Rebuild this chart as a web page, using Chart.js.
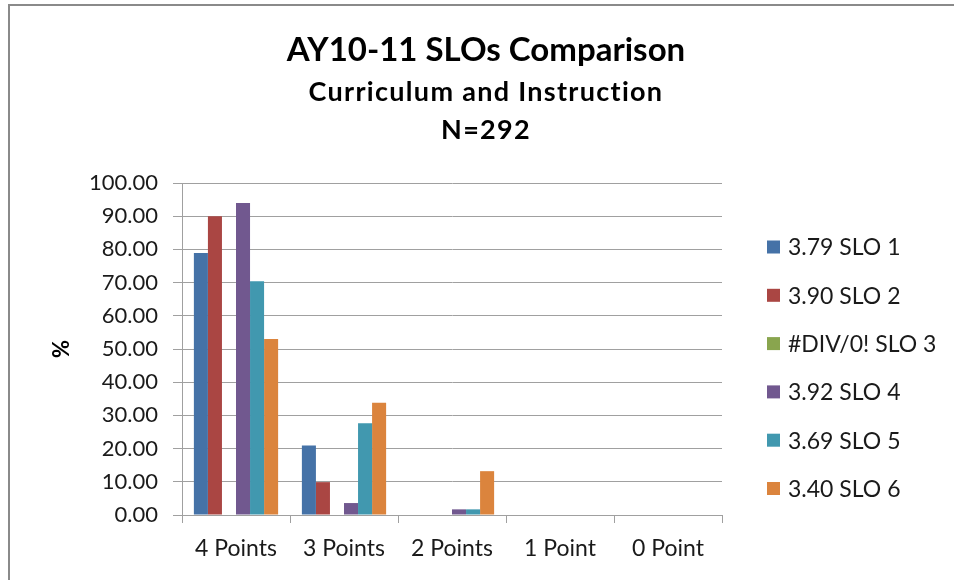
<!DOCTYPE html>
<html>
<head>
<meta charset="utf-8">
<script src="https://cdn.jsdelivr.net/npm/chart.js@4/dist/chart.umd.min.js"></script>
<style>
  html, body { margin: 0; padding: 0; background: #fff; }
  #wrap { position: relative; width: 954px; height: 580px; overflow: hidden; }
  #frame { position: absolute; left: 8px; top: 4px; right: -10px; bottom: -10px; border-top: 2px solid #8a8a8a; border-left: 2px solid #8a8a8a; pointer-events: none; }
  canvas { position: absolute; left: 0; top: 0; }
</style>
</head>
<body>
<div id="wrap">
  <canvas id="c" width="954" height="580"></canvas>
  <div id="frame"></div>
</div>
<script>
const titleText = 'AY10-11 SLOs Comparison';
const subtitleLines = ['Curriculum and Instruction', 'N=292'];
const yAxisTitle = '%';
const categories = ['4 Points', '3 Points', '2 Points', '1 Point', '0 Point'];
const seriesLabels = ['3.79 SLO 1', '3.90 SLO 2', '#DIV/0! SLO 3', '3.92 SLO 4', '3.69 SLO 5', '3.40 SLO 6'];
const slo1 = [78.9, 20.9, 0, 0, 0];
const slo2 = [90.0, 9.9, 0, 0, 0];
const slo3 = [0, 0, 0, 0, 0];
const slo4 = [94.0, 3.6, 1.7, 0, 0];
const slo5 = [70.4, 27.6, 1.7, 0, 0];
const slo6 = [53.0, 33.8, 13.2, 0, 0];
const seriesValues = [slo1, slo2, slo3, slo4, slo5, slo6];
const seriesColors = ['#4572A7', '#AA4643', '#89A54E', '#71588F', '#4198AF', '#DB843D'];
const yTicks = { min: 0, max: 100, step: 10 };

const FONT = 'Lato';
const gridColor = '#a0a0a0';

const titles = {
  id: 'titles',
  afterDraw(chart) {
    const ctx = chart.ctx;
    ctx.save();
    ctx.fillStyle = '#000';
    ctx.textAlign = 'center';
    ctx.textBaseline = 'middle';
    const cx = 486;
    ctx.font = 'bold 33px ' + FONT;
    ctx.letterSpacing = '0px';
    ctx.fillText(titleText, cx, 50);
    ctx.font = 'bold 27px ' + FONT;
    ctx.letterSpacing = '1.3px';
    ctx.fillText(subtitleLines[0], cx, 92);
    ctx.fillText(subtitleLines[1], cx, 130);
    ctx.letterSpacing = '0px';
    ctx.restore();
  }
};

const customLegend = {
  id: 'customLegend',
  afterDraw(chart) {
    const ctx = chart.ctx;
    ctx.save();
    ctx.font = '23px ' + FONT;
    ctx.textBaseline = 'middle';
    ctx.textAlign = 'left';
    const x0 = 767, y0 = 247, dy = 48.3, box = 13;
    chart.data.datasets.forEach((ds, i) => {
      const y = y0 + i * dy;
      ctx.fillStyle = ds.backgroundColor;
      ctx.fillRect(x0, y - box / 2, box, box);
      ctx.fillStyle = '#1a1a1a';
      ctx.fillText(ds.label, x0 + 21, y + 1);
    });
    ctx.restore();
  }
};

new Chart(document.getElementById('c'), {
  type: 'bar',
  data: {
    labels: categories,
    datasets: seriesLabels.map((lab, i) => ({
      label: lab,
      data: seriesValues[i],
      backgroundColor: seriesColors[i],
      borderWidth: 0,
      categoryPercentage: 0.78,
      barPercentage: 1.0
    }))
  },
  options: {
    responsive: false,
    animation: false,
    devicePixelRatio: 1,
    layout: { padding: { left: 49, right: 232, top: 183, bottom: 0 } },
    plugins: {
      legend: { display: false },
      tooltip: { enabled: false },
      title: { display: false },
      subtitle: { display: false }
    },
    scales: {
      x: {
        grid: { display: true, drawOnChartArea: false, drawTicks: true, tickLength: 8, color: gridColor, offset: true },
        border: { display: true, color: gridColor, width: 1 },
        ticks: { color: '#1a1a1a', font: { family: FONT, size: 23 }, padding: 12, maxRotation: 0 },
        afterFit(scale) { scale.height = 65; }
      },
      y: {
        min: yTicks.min,
        max: yTicks.max,
        grid: { color: gridColor, tickLength: 9, drawTicks: true },
        border: { display: true, color: gridColor, width: 1 },
        ticks: {
          stepSize: yTicks.step,
          color: '#1a1a1a',
          font: { family: FONT, size: 22 },
          padding: 15,
          callback: v => Number(v).toFixed(2)
        },
        title: {
          display: true,
          text: yAxisTitle,
          color: '#000',
          font: { family: FONT, size: 22, weight: 'bold', lineHeight: 1.2 },
          padding: { top: 0, bottom: 0 }
        },
        afterFit(scale) { scale.width = 133; }
      }
    }
  },
  plugins: [titles, customLegend]
});
</script>
</body>
</html>
